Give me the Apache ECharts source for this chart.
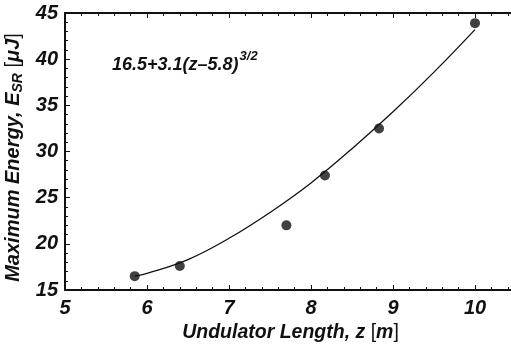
<!DOCTYPE html>
<html>
<head>
<meta charset="utf-8">
<script src="https://cdn.jsdelivr.net/npm/echarts@6/dist/echarts.min.js"></script>
<style>
html, body { margin: 0; padding: 0; background: #fff; }
#main { width: 511px; height: 350px; }
</style>
</head>
<body>
<div id="main"></div>
<script>
// measured points
var pointZ = [5.85, 6.4, 7.7, 8.17, 8.83, 10.0];
var pointE = [16.5, 17.6, 22.0, 27.4, 32.5, 43.9];
// fitted curve
var curveZ = [5.85, 6.0, 6.5, 7.0, 7.5, 8.0, 8.5, 9.0, 9.5, 10.0];
var curveE = [16.5, 16.8, 18.3, 20.6, 23.4, 26.6, 30.3, 34.3, 38.6, 43.2];

var ink = '#111';
var font = 'Liberation Sans';

var myChart = echarts.init(document.getElementById('main'));

var axisCommon = {
    axisLine: { show: true, onZero: false, lineStyle: { color: ink, width: 2 } },
    axisTick: { show: true, inside: true, length: 5, lineStyle: { color: ink, width: 1 } },
    minorTick: { show: true, splitNumber: 5, length: 3, lineStyle: { color: ink, width: 1 } },
    splitLine: { show: false }
};

myChart.setOption({
    animation: false,
    grid: { left: 65, top: 13, width: 451, height: 277, outerBoundsMode: 'none', containLabel: false },
    xAxis: [
        Object.assign({}, axisCommon, {
            type: 'value',
            min: 5, max: 10.5, interval: 1,
            name: '{i|Undulator Length, z }{r|[}{i|m}{r|]}',
            nameLocation: 'middle',
            nameGap: 31,
            nameTextStyle: {
                rich: {
                    i: { fontFamily: font, fontSize: 19.5, fontWeight: 'bold', fontStyle: 'italic', color: ink },
                    r: { fontFamily: font, fontSize: 19.5, fontWeight: 'normal', color: ink }
                }
            },
            axisLabel: {
                fontFamily: font, fontSize: 20, fontWeight: 'bold', fontStyle: 'italic', color: ink,
                margin: 8,
                formatter: function (v) { return v % 1 === 0 ? String(v) : ''; }
            }
        }),
        Object.assign({}, axisCommon, {
            type: 'value', position: 'top',
            min: 5, max: 10.5, interval: 1,
            axisLabel: { show: false }
        })
    ],
    yAxis: [
        Object.assign({}, axisCommon, {
            type: 'value',
            min: 15, max: 45, interval: 5,
            name: '{i|Maximum Energy, E}{s|SR}{r| [}{i|μJ}{r|]}',
            nameLocation: 'middle',
            nameGap: 36,
            nameTextStyle: {
                padding: [0, 12, 0, 0],
                rich: {
                    i: { fontFamily: font, fontSize: 20, fontWeight: 'bold', fontStyle: 'italic', color: ink, height: 22, verticalAlign: 'middle' },
                    s: { fontFamily: font, fontSize: 14, fontWeight: 'bold', fontStyle: 'italic', color: ink, padding: [9, 0, 0, 0], verticalAlign: 'middle' },
                    r: { fontFamily: font, fontSize: 20, fontWeight: 'normal', color: ink, verticalAlign: 'middle' }
                }
            },
            axisLabel: {
                fontFamily: font, fontSize: 20, fontWeight: 'bold', fontStyle: 'italic', color: ink,
                margin: 7
            }
        })
    ],
    graphic: [{
        type: 'text',
        left: 112,
        top: 50,
        style: {
            text: '{b|16.5+3.1(z\u20135.8)}{p|3/2}',
            rich: {
                b: { fontFamily: font, fontSize: 18, fontWeight: 'bold', fontStyle: 'italic', fill: ink, padding: [8, 0, 0, 0] },
                p: { fontFamily: font, fontSize: 13, fontWeight: 'bold', fontStyle: 'italic', fill: ink, padding: [0, 0, 10, 1] }
            }
        }
    }],
    series: [
        {
            type: 'line',
            data: curveZ.map(function (z, i) { return [z, curveE[i]]; }),
            smooth: 0.4,
            showSymbol: false,
            lineStyle: { color: ink, width: 1.3 },
            silent: true
        },
        {
            type: 'scatter',
            data: pointZ.map(function (z, i) { return [z, pointE[i]]; }),
            symbol: 'circle',
            symbolSize: 10,
            itemStyle: { color: ink },
            silent: true
        }
    ]
});

window.addEventListener('resize', function () {
    myChart.resize();
});
</script>
</body>
</html>
